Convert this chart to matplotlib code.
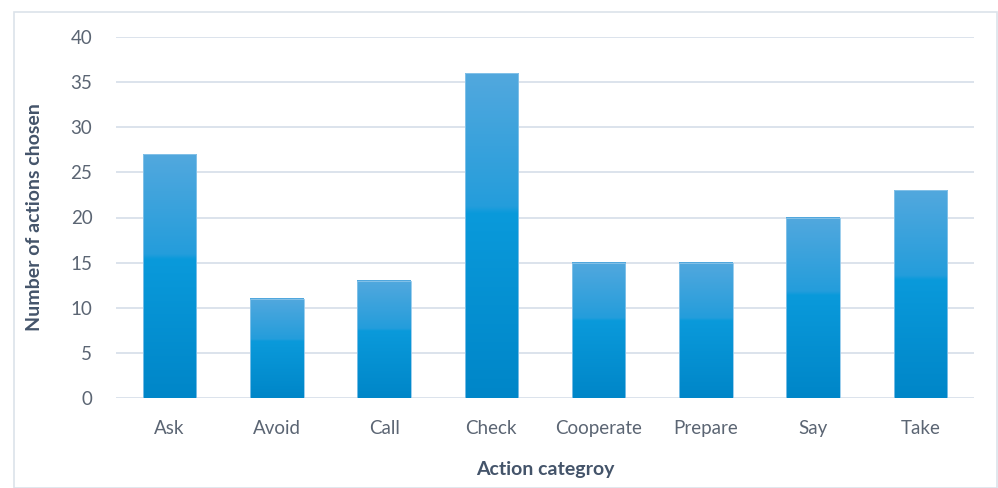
import matplotlib
matplotlib.use("Agg")
import matplotlib.pyplot as plt
import numpy as np
from matplotlib.colors import LinearSegmentedColormap
from matplotlib.patches import Rectangle

categories = ["Ask", "Avoid", "Call", "Check", "Cooperate", "Prepare", "Say", "Take"]
values = [27, 11, 13, 36, 15, 15, 20, 23]
yticks = [0, 5, 10, 15, 20, 25, 30, 35, 40]

plt.rcParams['font.family'] = ['Lato', 'DejaVu Sans']

fig = plt.figure(figsize=(9.98, 4.88), dpi=100)
ax = fig.add_axes([116/998, 1-398/488, (974-116)/998, (398-37)/488])

cmap = LinearSegmentedColormap.from_list("g", [
    (0.0, "#0086C8"), (0.57, "#0A9ADB"), (0.59, "#249DDB"), (1.0, "#52A8DE")])
grad = np.linspace(0, 1, 256).reshape(-1, 1)

x = np.arange(len(categories))
width = 0.5
bars = ax.bar(x, values, width=width, color="none", edgecolor="#8CC6EA", linewidth=0.6, zorder=3)
for b in bars:
    x0, y0, w, h = b.get_x(), b.get_y(), b.get_width(), b.get_height()
    ax.imshow(grad, extent=[x0, x0 + w, y0, y0 + h], origin="lower", cmap=cmap,
              aspect="auto", zorder=2, interpolation="bilinear")

ax.set_xlim(-0.5, len(categories) - 0.5)
ax.set_ylim(0, 40)
ax.set_yticks(yticks)
ax.set_xticks(x)
ax.set_xticklabels(categories)
ax.yaxis.grid(True, color="#D9E1EA", linewidth=1.3, zorder=0)
ax.set_axisbelow(True)
for s in ax.spines.values():
    s.set_visible(False)
ax.tick_params(axis="both", length=0, labelsize=13.5, colors="#5B6573")
ax.tick_params(axis="x", pad=16)
ax.tick_params(axis="y", pad=17)
ax.set_xlabel("Action categroy", fontsize=14, fontweight="bold", color="#44546A", labelpad=17)
ax.set_ylabel("Number of actions chosen", fontsize=14, fontweight="bold", color="#44546A", labelpad=20)

fig.patches.append(Rectangle((14/998, 0), (997-14)/998, 1-12/488, transform=fig.transFigure,
                             fill=False, edgecolor="#DCE3EA", linewidth=1.2))

fig.savefig("out.png", dpi=100)
